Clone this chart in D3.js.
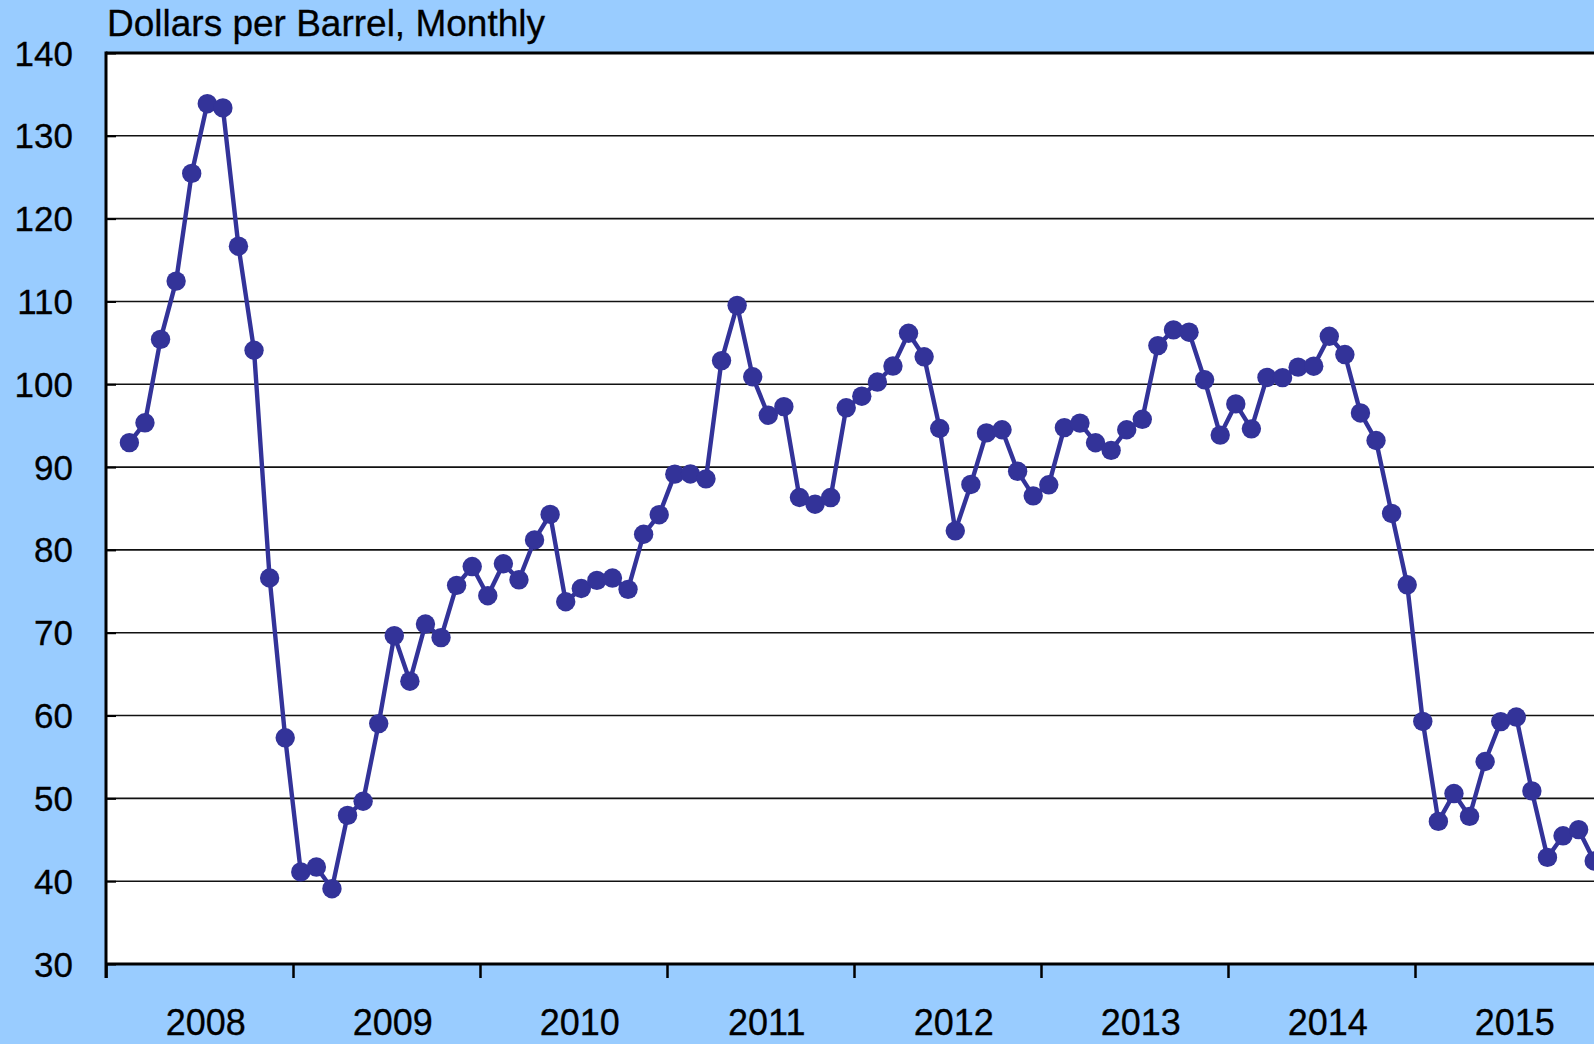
<!DOCTYPE html>
<html>
<head>
<meta charset="utf-8">
<script src="https://cdn.jsdelivr.net/npm/d3@7"></script>
<style>
  html, body { margin: 0; padding: 0; background: #99ccff; }
  svg { display: block; }
  text { font-family: "Liberation Sans", Arial, sans-serif; fill: #000; stroke: #000; stroke-width: 0.3; }
</style>
</head>
<body>
<svg id="chart" width="1594" height="1044"></svg>
<script>
// ---- Data (WTI spot, dollars per barrel, monthly, starting Jan 2008) ----
const years = ["2008", "2009", "2010", "2011", "2012", "2013", "2014", "2015"];
const yTicks = [30, 40, 50, 60, 70, 80, 90, 100, 110, 120, 130, 140];
const title = "Dollars per Barrel, Monthly";

const price2008 = [92.95, 95.35, 105.42, 112.46, 125.46, 133.88, 133.37, 116.67, 104.11, 76.61, 57.31, 41.12];
const price2009 = [41.71, 39.09, 47.94, 49.65, 59.03, 69.64, 64.15, 71.05, 69.41, 75.72, 77.99, 74.47];
const price2010 = [78.33, 76.39, 81.20, 84.29, 73.74, 75.34, 76.32, 76.60, 75.24, 81.89, 84.25, 89.15];
const price2011 = [89.17, 88.58, 102.86, 109.53, 100.90, 96.26, 97.30, 86.33, 85.52, 86.32, 97.16, 98.56];
const price2012 = [100.27, 102.20, 106.16, 103.32, 94.66, 82.30, 87.90, 94.13, 94.51, 89.49, 86.53, 87.86];
const price2013 = [94.76, 95.31, 92.94, 92.02, 94.51, 95.77, 104.67, 106.57, 106.29, 100.54, 93.86, 97.63];
const price2014 = [94.62, 100.82, 100.80, 102.07, 102.18, 105.79, 103.59, 96.54, 93.21, 84.40, 75.79, 59.29];
const price2015 = [47.22, 50.58, 47.82, 54.45, 59.27, 59.82, 50.90, 42.87, 45.48, 46.22, 42.44];

const prices = [].concat(price2008, price2009, price2010, price2011, price2012, price2013, price2014, price2015);
const series = prices.map((v, i) => ({ i, v }));

// ---- Layout ----
const W = 1594, H = 1044;
const plotLeft = 106, plotTop = 53, plotBottom = 964;
const color = "#333399";

const svg = d3.select("#chart");
svg.append("rect").attr("width", W).attr("height", H).attr("fill", "#99ccff");

// month index scale: axis starts 1.5 months before the first point, year ticks every 12 months
const x = d3.scaleLinear().domain([-1.5, 10.5]).range([plotLeft, 293]);
const y = d3.scaleLinear().domain([30, 140]).range([plotBottom, plotTop]);

// plot area
svg.append("rect")
  .attr("x", plotLeft).attr("y", plotTop)
  .attr("width", W - plotLeft + 10).attr("height", plotBottom - plotTop)
  .attr("fill", "#fff");

// gridlines
svg.append("g")
  .selectAll("line")
  .data(yTicks.filter(d => d > 30 && d < 140))
  .join("line")
  .attr("x1", plotLeft).attr("x2", W + 5)
  .attr("y1", d => y(d)).attr("y2", d => y(d))
  .attr("stroke", "#111").attr("stroke-width", 1.6);

// top border
svg.append("line")
  .attr("x1", plotLeft).attr("x2", W + 5)
  .attr("y1", plotTop).attr("y2", plotTop)
  .attr("stroke", "#000").attr("stroke-width", 3);

// y axis inner ticks
const yAxis = svg.append("g")
  .attr("transform", `translate(${plotLeft},0)`)
  .call(d3.axisRight(y).tickValues(yTicks).tickSize(10).tickFormat(""));
yAxis.select(".domain").remove();
yAxis.selectAll("line").attr("stroke", "#000").attr("stroke-width", 2);

// y labels
svg.append("g")
  .selectAll("text")
  .data(yTicks)
  .join("text")
  .attr("x", 73)
  .attr("y", d => y(d) + 12.5)
  .attr("text-anchor", "end")
  .attr("font-size", 35)
  .text(d => d);

// x axis
const boundaries = d3.range(0, years.length + 1).map(k => -1.5 + 12 * k);
const xAxis = svg.append("g")
  .attr("transform", `translate(0,${plotBottom})`)
  .call(d3.axisBottom(x).tickValues(boundaries).tickSize(14).tickSizeOuter(0).tickFormat(""));
xAxis.select(".domain").attr("d", `M${plotLeft},0H${W + 10}`).attr("stroke", "#000").attr("stroke-width", 3);
xAxis.selectAll(".tick line").attr("stroke", "#000").attr("stroke-width", 2.5);

// left axis line
svg.append("line")
  .attr("x1", plotLeft).attr("x2", plotLeft)
  .attr("y1", plotTop - 1.5).attr("y2", plotBottom + 14)
  .attr("stroke", "#000").attr("stroke-width", 3);

// year labels
svg.append("g")
  .selectAll("text")
  .data(years)
  .join("text")
  .attr("x", (d, k) => x(12 * k + 4.9))
  .attr("y", 1035)
  .attr("text-anchor", "middle")
  .attr("font-size", 36)
  .text(d => d);

// title
svg.append("text")
  .attr("x", 107).attr("y", 36)
  .attr("font-size", 37)
  .text(title);

// series
const line = d3.line().x(d => x(d.i)).y(d => y(d.v));
svg.append("path")
  .datum(series)
  .attr("d", line)
  .attr("fill", "none")
  .attr("stroke", color)
  .attr("stroke-width", 4.4)
  .attr("stroke-linejoin", "round");

svg.append("g")
  .selectAll("circle")
  .data(series)
  .join("circle")
  .attr("cx", d => x(d.i))
  .attr("cy", d => y(d.v))
  .attr("r", 9.7)
  .attr("fill", color);
</script>
</body>
</html>
